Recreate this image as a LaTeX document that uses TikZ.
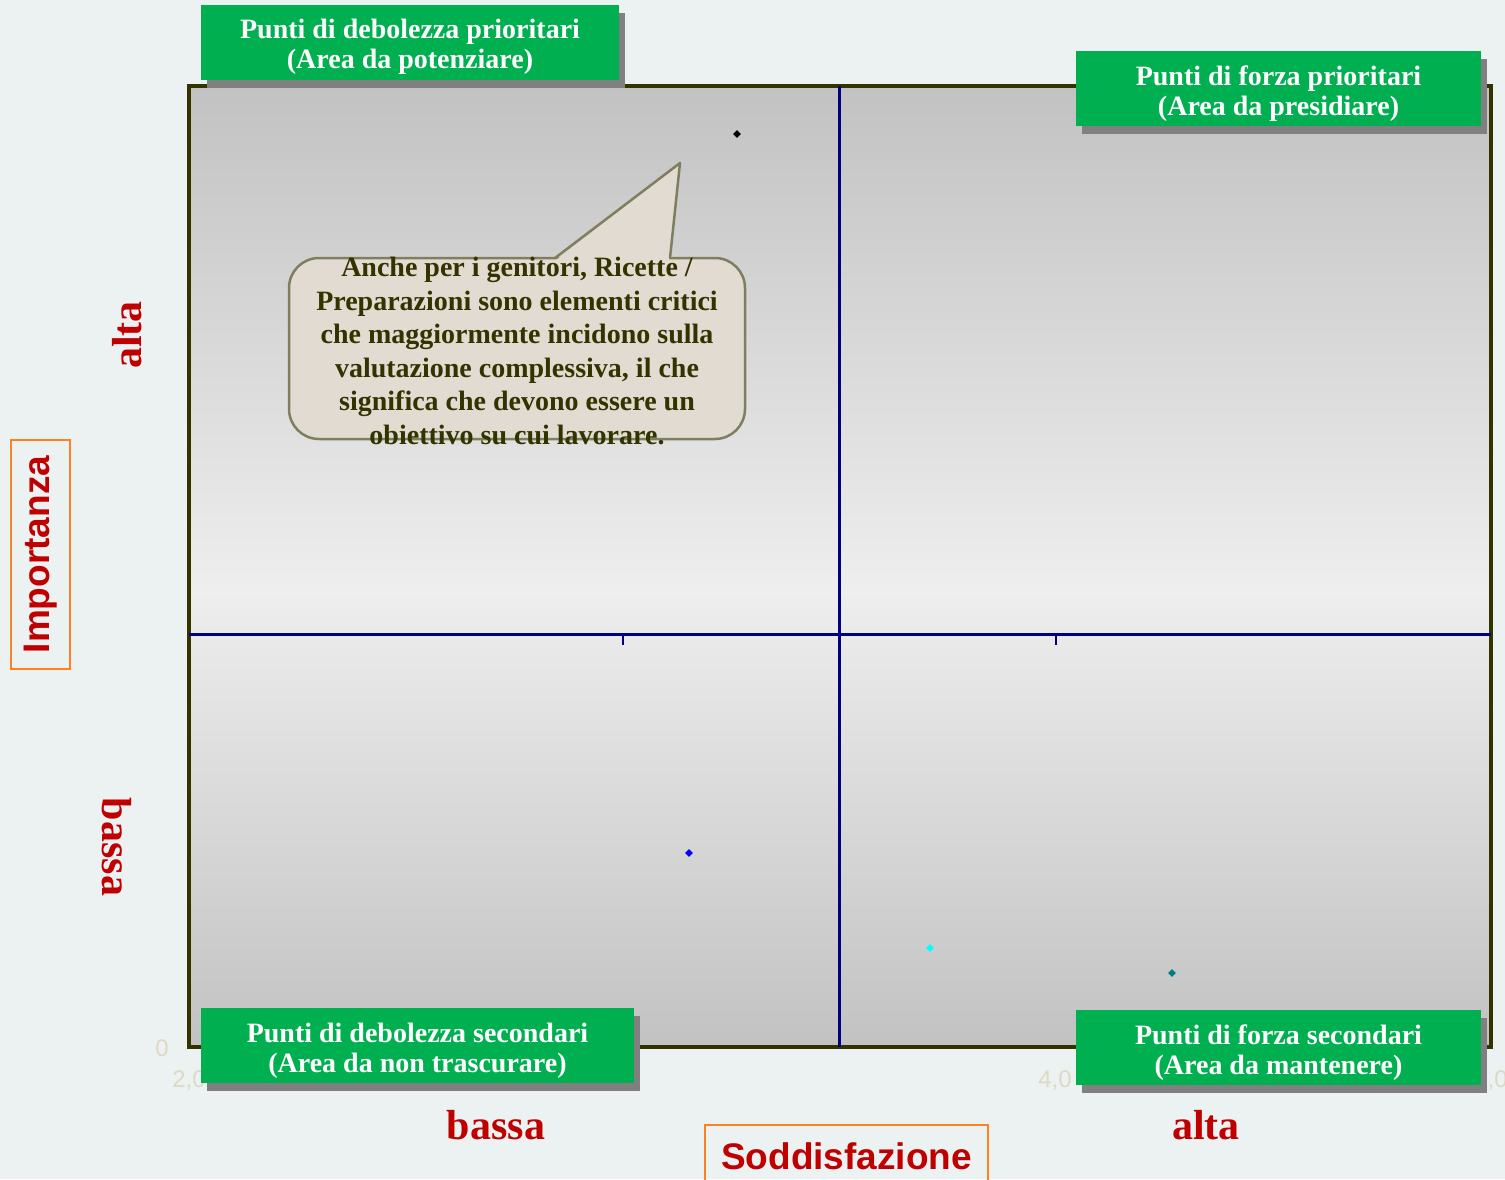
\documentclass[tikz,border=0pt]{standalone}
\usepackage{fontspec}
\setmainfont{Liberation Serif}
\setsansfont{Liberation Sans}
\usetikzlibrary{shadows, shapes.geometric, positioning}

\definecolor{bgcol}{HTML}{ECF2F2}
\definecolor{greenbox}{HTML}{00B050}
\definecolor{frameol}{HTML}{333300}
\definecolor{axisred}{HTML}{C00000}
\definecolor{labelor}{HTML}{FF8020}
\definecolor{ticklab}{HTML}{DDD9C3}
\definecolor{calloutfill}{HTML}{E1DBD2}
\definecolor{calloutline}{HTML}{7F7F5F}
\definecolor{plotgray}{HTML}{C2C2C2}
\definecolor{plotlight}{HTML}{EEEEEE}
\definecolor{ptcyan}{RGB}{0,255,255}
\definecolor{ptteal}{RGB}{0,128,128}
\definecolor{ptblue}{RGB}{0,0,255}

\begin{document}
\begin{tikzpicture}[x=1pt, y=-1pt]
      % Canvas
      \useasboundingbox (0,0) rectangle (1505,1179);
      \fill[bgcol] (0,0) rectangle (1505,1179);

      % Plot area
      \shade[top color=plotgray, bottom color=plotlight] (189,86) rectangle (1491,590);
      \shade[top color=plotlight, bottom color=plotgray] (189,590) rectangle (1491,1047);
      \draw[frameol, line width=4pt] (189,86) rectangle (1491,1047);

      % Define the style for the axes
      \tikzstyle{axisline} = [draw, blue!50!black, line width=3pt]

      % Quadrant axes and ticks
      \coordinate (xl) at (189,634);
      \coordinate (xr) at (1491,634);
      \coordinate (yt) at (839,86);
      \coordinate (yb) at (839,1047);
      \draw[axisline] (xl) -- (xr);
      \draw[axisline] (yt) -- (yb);
      \foreach \tx in {623, 1056}
        \draw[blue!50!black, line width=2.5pt] (\tx,634) -- (\tx,645);

      % Tick labels
      \tikzstyle{every node}=[text=ticklab, font=\sffamily\fontsize{24}{24}\selectfont]
      \node (t0) at (162,1048) {0};
      \node (t2) at (189,1081) {2,0};
      \node (t3) at (623,1081) {3,0};
      \node (t4) at (1055,1081) {4,0};
      \node (t5) at (1491,1081) {5,0};

      % Define the style for the data points
      \tikzstyle{every node}=[diamond, inner sep=0pt, minimum size=8pt]

      % Data points
      \node[fill=black] (pA) at (737,134) {};
      \node[fill=ptblue] (pB) at (689,853) {};
      \node[fill=ptcyan] (pC) at (930,948) {};
      \node[fill=ptteal] (pD) at (1172,973) {};

      % Callout
      \tikzstyle{every node}=[]
      \node[draw=calloutline, fill=calloutfill, line width=2.5pt, rounded corners=30pt,
            minimum width=456pt, minimum height=181pt] (callout) at (517,348.5) {};
      \coordinate (tip) at (680,163);
      \fill[calloutfill] (556,260) -- (tip) -- (669,260) -- cycle;
      \draw[calloutline, line width=2.5pt, line join=round] (555,258) -- (tip) -- (670,258);
      \node[text=frameol, font=\bfseries\fontsize{28}{33.6}\selectfont, align=center]
            (note) at (517,351)
            {Anche per i genitori, Ricette /\\Preparazioni sono elementi critici\\
             che maggiormente incidono sulla\\valutazione complessiva, il che\\
             significa che devono essere un\\obiettivo su cui lavorare.};

      % Define the style for the quadrant boxes
      \tikzstyle{quadbox} = [fill=greenbox, inner sep=0pt, minimum height=75pt,
            drop shadow={shadow xshift=6pt, shadow yshift=-8pt, fill=gray, opacity=1}]
      \tikzstyle{quadtext} = [text=white, align=center, inner sep=0pt,
            font=\bfseries\fontsize{28}{30.5}\selectfont]

      % Quadrant boxes
      \node[quadbox, minimum width=418pt] (wprio) at (410,42) {};
      \node[quadbox, minimum width=405pt] (sprio) at (1278.5,88.5) {};
      \node[quadbox, minimum width=433pt] (wsec) at (417.5,1045.5) {};
      \node[quadbox, minimum width=405pt] (ssec) at (1278.5,1047.5) {};
      \node[quadtext] at ([yshift=-5pt]wprio.center) {Punti di debolezza prioritari\\(Area da potenziare)};
      \node[quadtext] at ([yshift=-5pt]sprio.center) {Punti di forza prioritari\\(Area da presidiare)};
      \node[quadtext] at ([yshift=-5pt]wsec.center) {Punti di debolezza secondari\\(Area da non trascurare)};
      \node[quadtext] at ([yshift=-5pt]ssec.center) {Punti di forza secondari\\(Area da mantenere)};

      % Define the style for the axis labels
      \tikzstyle{levellabel} = [text=axisred, font=\bfseries\fontsize{42}{42}\selectfont]
      \tikzstyle{axistitle} = [draw=labelor, line width=2pt, text=axisred,
            font=\sffamily\bfseries\fontsize{37}{37}\selectfont]

      % Axis labels
      \node[levellabel, rotate=90] (yhigh) at (127,335) {alta};
      \node[levellabel, rotate=-90] (ylow) at (117,847) {bassa};
      \node[levellabel] (xlow) at (496,1125) {bassa};
      \node[levellabel] (xhigh) at (1206,1125) {alta};
      \node[axistitle, rotate=90, minimum width=229pt, minimum height=59pt] (ytitle) at (40.5,554.5) {Importanza};
      \node[axistitle, minimum width=283pt, minimum height=62pt] (xtitle) at (846.5,1156) {Soddisfazione};

    \end{tikzpicture}
\end{document}
